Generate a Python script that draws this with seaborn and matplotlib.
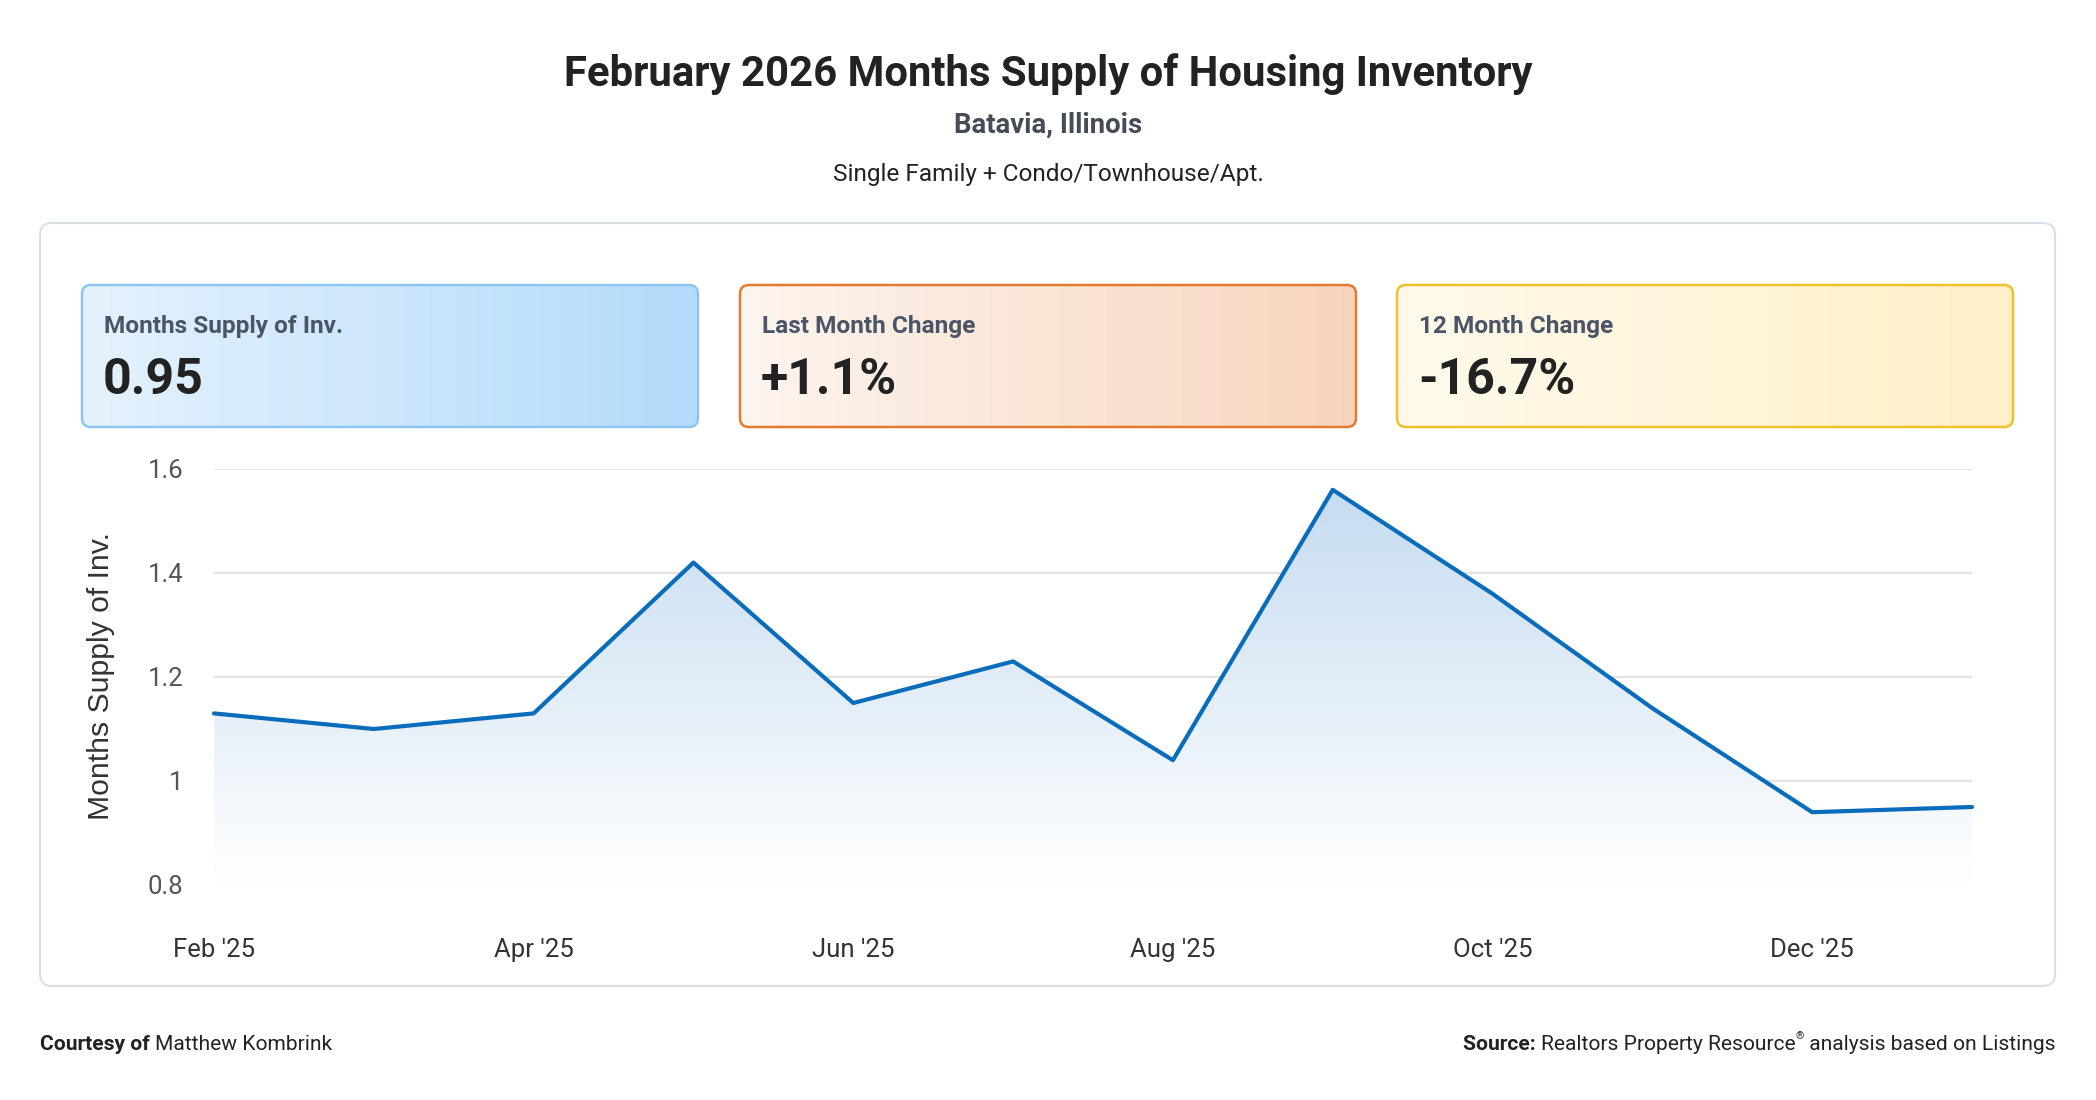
import numpy as np
import pandas as pd
import matplotlib
matplotlib.use("Agg")
import matplotlib.pyplot as plt
import seaborn as sns
from matplotlib.patches import FancyBboxPatch, Polygon
from matplotlib.colors import LinearSegmentedColormap

# data
months = ["Feb '25", "Mar '25", "Apr '25", "May '25", "Jun '25", "Jul '25",
          "Aug '25", "Sep '25", "Oct '25", "Nov '25", "Dec '25", "Jan '26"]
supply = [1.13, 1.10, 1.13, 1.42, 1.15, 1.23, 1.04, 1.56, 1.36, 1.14, 0.94, 0.95]
y_ticks = [0.8, 1.0, 1.2, 1.4, 1.6]
y_tick_labels = ["0.8", "1", "1.2", "1.4", "1.6"]

kpi_labels = ["Months Supply of Inv.", "Last Month Change", "12 Month Change"]
kpi_values = ["0.95", "+1.1%", "-16.7%"]
kpi_colors = [("#e5f2fd", "#b3dbfa", "#8dc7f1"),
              ("#fdf5ef", "#f7d5bd", "#e27a2f"),
              ("#fffaec", "#fff0c8", "#efc22c")]

df = pd.DataFrame({"pos": np.arange(len(months)), "month": months, "supply": supply})

W, H = 2096, 1100
sns.set_theme(style="white")
plt.rcParams["font.family"] = ["Roboto", "DejaVu Sans"]

fig = plt.figure(figsize=(W / 100, H / 100), dpi=100)
fig.patch.set_facecolor("white")

# background layer in pixel coordinates
bg = fig.add_axes([0, 0, 1, 1], zorder=0)
bg.axis("off")

bg.text(W / 2, 74, "February 2026 Months Supply of Housing Inventory", ha="center", va="center",
        fontsize=30.2, fontweight="bold", color="#222222")
bg.text(W / 2, 125, "Batavia, Illinois", ha="center", va="center",
        fontsize=19.8, fontweight="bold", color="#454c57")
bg.text(W / 2, 174, "Single Family + Condo/Townhouse/Apt.", ha="center", va="center",
        fontsize=17.6, color="#222222")

panel = FancyBboxPatch((40, 223), 2015, 763, boxstyle="round,pad=0,rounding_size=12",
                       fc="white", ec="#d9e0e8", lw=1.5)
bg.add_patch(panel)

box_x = [82, 740, 1397]
box_w, box_y, box_h = 616, 285, 142
for x0, lab, val, (c0, c1, ec) in zip(box_x, kpi_labels, kpi_values, kpi_colors):
    patch = FancyBboxPatch((x0, box_y), box_w, box_h, boxstyle="round,pad=0,rounding_size=9",
                           fc="none", ec=ec, lw=1.8, zorder=3)
    bg.add_patch(patch)
    cmap = LinearSegmentedColormap.from_list("g", [c0, c1])
    grad = np.tile(np.linspace(0, 1, 256), (2, 1))
    im = bg.imshow(grad, cmap=cmap, extent=(x0, x0 + box_w, box_y + box_h, box_y),
                   aspect="auto", zorder=2)
    im.set_clip_path(patch)
    bg.text(x0 + 22, box_y + 41, lab, ha="left", va="center", fontsize=17.6,
            fontweight="bold", color="#4a5568", zorder=4)
    bg.text(x0 + 21, box_y + 96, val, ha="left", va="center", fontsize=36,
            fontweight="bold", color="#222222", zorder=4)

bg.set_xlim(0, W)
bg.set_ylim(H, 0)

# footer
fs = 15.1
fy = 1045
renderer = fig.canvas.get_renderer()
t = bg.text(40, fy, "Courtesy of ", ha="left", va="center", fontsize=fs,
            fontweight="bold", color="#222222")
x_end = bg.transData.inverted().transform(t.get_window_extent(renderer).get_points())[1][0]
bg.text(x_end, fy, "Matthew Kombrink", ha="left", va="center", fontsize=fs, color="#222222")

t = bg.text(2055, fy, " analysis based on Listings", ha="right", va="center",
            fontsize=fs, color="#222222")
x_start = bg.transData.inverted().transform(t.get_window_extent(renderer).get_points())[0][0]
t = bg.text(x_start, fy - 9, "®", ha="right", va="center", fontsize=7.5, color="#222222")
x_start = bg.transData.inverted().transform(t.get_window_extent(renderer).get_points())[0][0]
t = bg.text(x_start, fy, "Realtors Property Resource", ha="right", va="center",
            fontsize=fs, color="#222222")
x_start = bg.transData.inverted().transform(t.get_window_extent(renderer).get_points())[0][0]
bg.text(x_start, fy, "Source: ", ha="right", va="center", fontsize=fs,
        fontweight="bold", color="#222222")

# chart
ax = fig.add_axes([214 / W, 1 - 885 / H, (1972 - 214) / W, (885 - 469) / H], zorder=2)
ax.patch.set_alpha(0)

sns.lineplot(data=df, x="pos", y="supply", ax=ax, color="#0a6dbb", linewidth=3,
             zorder=4, clip_on=False)

ymin, ymax = y_ticks[0], y_ticks[-1]
verts = [(0, ymin)] + list(zip(df["pos"], df["supply"])) + [(df["pos"].iloc[-1], ymin)]
area = Polygon(verts, closed=True, fc="none", ec="none")
ax.add_patch(area)
fill_cmap = LinearSegmentedColormap.from_list("f", ["#ffffff", "#c3daf0"])
grad = np.linspace(0, 1, 256).reshape(-1, 1)
im = ax.imshow(grad, cmap=fill_cmap, extent=(0, len(months) - 1, ymin, ymax),
               origin="lower", aspect="auto", zorder=1)
im.set_clip_path(area)

ax.set_xlim(0, len(months) - 1)
ax.set_ylim(ymin, ymax)
ax.set_yticks(y_ticks)
ax.set_yticklabels(y_tick_labels)
ax.set_xticks(df["pos"][::2])
ax.set_xticklabels(months[::2])
ax.grid(axis="y", color="#e3e3e3", lw=1.5, zorder=0)
ax.grid(axis="x", visible=False)
for s in ax.spines.values():
    s.set_visible(False)
ax.tick_params(axis="x", length=0, pad=38, labelsize=18.5, labelcolor="#333333")
ax.tick_params(axis="y", length=0, pad=22, labelsize=18.5, labelcolor="#555555")
ax.set_xlabel("")
ax.set_ylabel("Months Supply of Inv.", fontsize=21.7, color="#333333",
              family=["Liberation Sans", "DejaVu Sans"])
ax.yaxis.set_label_coords((115 - 214) / (1972 - 214), (885 - 676) / (885 - 469))

fig.savefig("out.png", dpi=100, facecolor="white")
